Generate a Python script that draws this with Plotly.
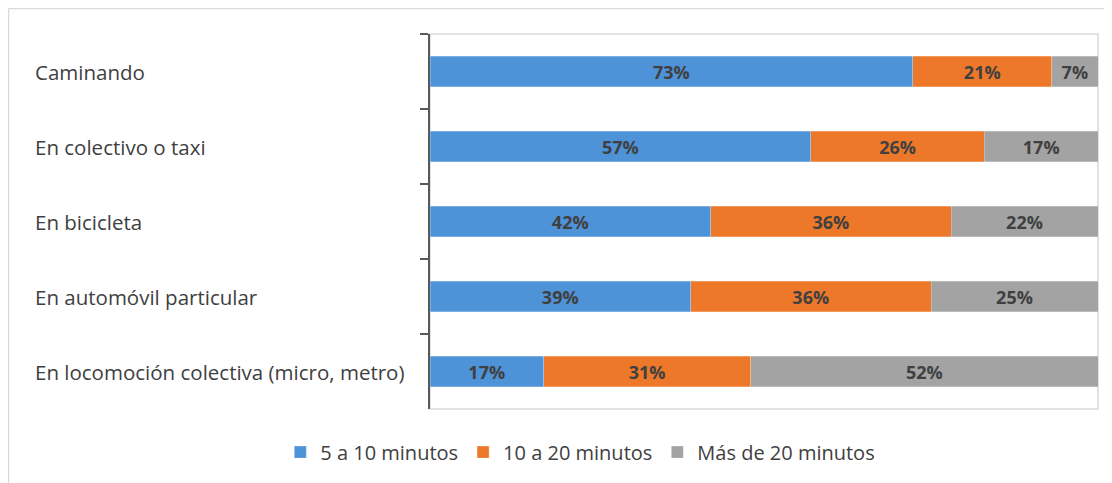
import plotly.graph_objects as go

categories = ["Caminando", "En colectivo o taxi", "En bicicleta",
              "En automóvil particular", "En locomoción colectiva (micro, metro)"]
series_names = ["5 a 10 minutos", "10 a 20 minutos", "Más de 20 minutos"]
v_5_10 = [73, 57, 42, 39, 17]
v_10_20 = [21, 26, 36, 36, 31]
v_20_plus = [7, 17, 22, 25, 52]
colors = ["#4e92d8", "#ee7829", "#a3a3a3"]

FONT = "Open Sans"
TXT = "#404040"

fig = go.Figure()
for name, vals, col in zip(series_names, [v_5_10, v_10_20, v_20_plus], colors):
    fig.add_trace(go.Bar(
        y=categories, x=vals, name=name, orientation="h",
        marker=dict(color=col, line=dict(color="rgba(255,255,255,0.5)", width=0.5)),
        text=vals, texttemplate="<b>%{text}%</b>", textposition="inside",
        insidetextanchor="middle", constraintext="none",
        textfont=dict(family=FONT, size=18, color=TXT),
        hoverinfo="skip",
    ))

for c in categories:
    fig.add_annotation(x=-0.595, xref="paper", y=c, yref="y", text=c,
                       xanchor="left", yanchor="middle", showarrow=False,
                       font=dict(family=FONT, size=20.5, color=TXT))

# outer chart frame (left and top edges visible)
fig.add_shape(type="line", xref="paper", yref="paper", x0=-0.631, x1=-0.631, y0=-0.3, y1=1.068,
              line=dict(color="#d9d9d9", width=1.5))
fig.add_shape(type="line", xref="paper", yref="paper", x0=-0.631, x1=1.05, y0=1.068, y1=1.068,
              line=dict(color="#d9d9d9", width=1.5))
# plot area border
fig.add_shape(type="rect", xref="paper", yref="paper", x0=0, x1=1, y0=0, y1=1,
              line=dict(color="#d9d9d9", width=1.5), layer="below")

fig.update_layout(
    width=1104, height=475,
    margin=dict(l=422, r=14, t=26, b=73),
    barmode="stack", barnorm="percent", bargap=0.59,
    plot_bgcolor="white", paper_bgcolor="white",
    showlegend=True,
    legend=dict(orientation="h", x=0.225, xanchor="center", y=-0.112, yanchor="middle",
                font=dict(family=FONT, size=20, color=TXT), itemwidth=30,
                traceorder="normal"),
    xaxis=dict(range=[0, 100], showgrid=False, showticklabels=False, zeroline=False,
               ticks="", fixedrange=True),
    yaxis=dict(autorange="reversed", showticklabels=False, ticks="outside",
               tickson="boundaries", ticklen=8, tickcolor="#595959", tickwidth=1.5,
               showline=True, linecolor="#595959", linewidth=1.5, showgrid=False),
)

fig.write_html("out.html")
